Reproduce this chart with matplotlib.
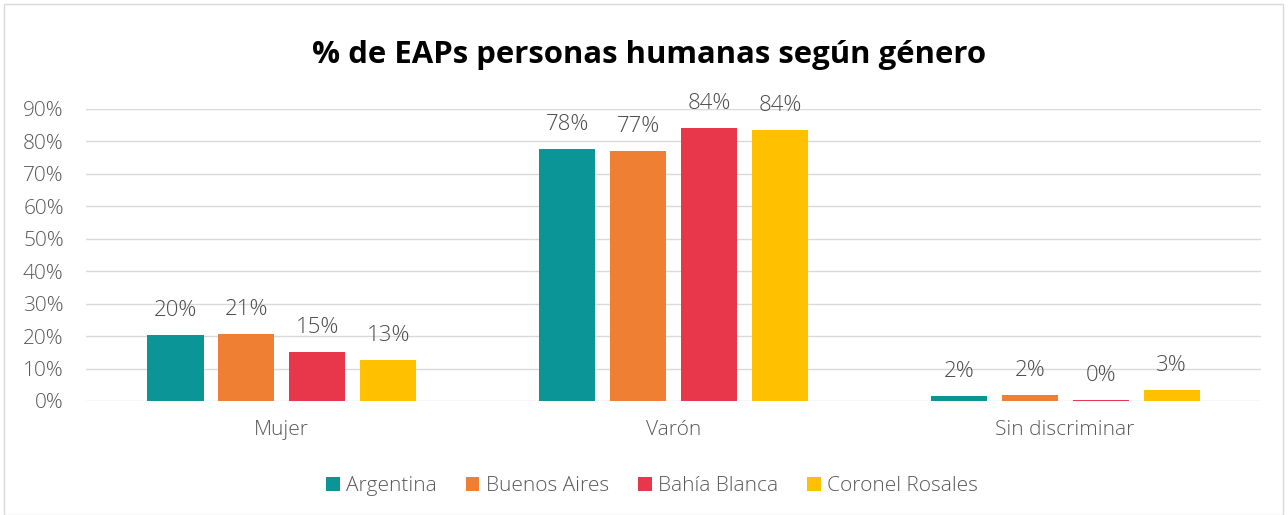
import matplotlib.pyplot as plt
import numpy as np
from matplotlib.patches import Rectangle

# data
categories = ["Mujer", "Varón", "Sin discriminar"]
series = ["Argentina", "Buenos Aires", "Bahía Blanca", "Coronel Rosales"]
argentina = [20.3, 77.7, 1.6]
buenos_aires = [20.6, 77.1, 1.9]
bahia_blanca = [15.1, 84.2, 0.3]
coronel_rosales = [12.6, 83.5, 3.4]
colors = ["#0B9596", "#EE7F33", "#E8364A", "#FFC000"]

plt.rcParams['font.family'] = ['Open Sans', 'DejaVu Sans']

fig = plt.figure(figsize=(12.88, 5.15), dpi=100)
ax = fig.add_axes([86/1288, 1-401/515, (1261-86)/1288, (401-109)/515])

# chart border
fig.patches.append(Rectangle((4/1288, 0.0), 1279/1288, 1-4/515, transform=fig.transFigure,
                             fill=False, edgecolor="#D9D9D9", linewidth=1))

x = np.arange(len(categories))
bw = 0.143
step = 0.181
vals = [argentina, buenos_aires, bahia_blanca, coronel_rosales]
for i, (name, v) in enumerate(zip(series, vals)):
    pos = x + (i - 1.5)*step
    ax.bar(pos, v, width=bw, color=colors[i], label=name, zorder=3)
    for px, pv in zip(pos, v):
        ax.annotate("%d%%" % round(pv), (px, pv), xytext=(0, 13.5), textcoords="offset points",
                    ha="center", va="baseline", fontsize=16, color="#4D4D4D",
                    fontweight="light")

ax.set_ylim(0, 90)
ax.set_xlim(-0.5, 2.5)
ax.set_yticks(np.arange(0, 91, 10))
ax.set_yticklabels(["%d%%" % t for t in range(0, 91, 10)], fontsize=15, color="#595959",
                   fontweight="light")
ax.set_xticks(x)
ax.set_xticklabels(categories, fontsize=15, color="#595959", fontweight="light")
ax.tick_params(axis="y", length=0, pad=16)
ax.tick_params(axis="x", length=0, pad=14)
ax.grid(axis="y", color="#D9D9D9", linewidth=1, zorder=0)
for s in ax.spines.values():
    s.set_visible(False)

fig.suptitle("% de EAPs personas humanas según género", x=0.504, y=1-55/515, va="center",
             fontsize=22.4, fontweight="bold", color="black")

fig.legend(loc="center", bbox_to_anchor=(652/1288, 1-486/515), ncol=4, frameon=False,
           prop={"size": 15, "weight": "light"}, handlelength=0.65, handleheight=0.65,
           handletextpad=0.3, columnspacing=1.4, labelcolor="#595959")

fig.savefig("out.png", dpi=100)
